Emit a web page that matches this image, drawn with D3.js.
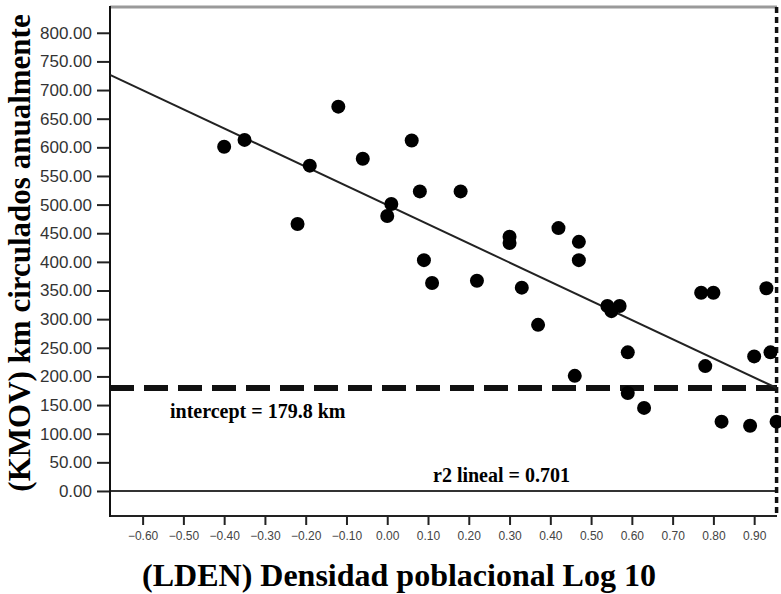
<!DOCTYPE html>
<html>
<head>
<meta charset="utf-8">
<script src="https://cdn.jsdelivr.net/npm/d3@7"></script>
<style>
  body { margin: 0; background: #fff; }
  svg { display: block; }
</style>
</head>
<body>
<script>
// densidad poblacional (log10) y km circulados por año
var lden = [-0.40, -0.35, -0.12, -0.19, -0.06, -0.22, 0.01, 0.00, 0.06, 0.08,
            0.18, 0.09, 0.11, 0.22, 0.30, 0.30, 0.33, 0.37, 0.42, 0.47,
            0.47, 0.46, 0.54, 0.55, 0.57, 0.59, 0.59, 0.63, 0.77, 0.80,
            0.78, 0.82, 0.89, 0.90, 0.93, 0.94, 0.955];
var kmov = [601, 613, 671, 568, 580, 466, 501, 480, 612, 523,
            523, 403, 363, 367, 444, 433, 355, 290, 459, 435,
            403, 201, 323, 314, 323, 242, 171, 145, 346, 346,
            218, 121, 114, 235, 354, 242, 121];

var xTicks = [-0.60, -0.50, -0.40, -0.30, -0.20, -0.10, 0.00, 0.10, 0.20, 0.30,
              0.40, 0.50, 0.60, 0.70, 0.80, 0.90];
var yTicks = [0, 50, 100, 150, 200, 250, 300, 350, 400, 450, 500, 550, 600, 650, 700, 750, 800];

// recta de ajuste lineal (extremos)
var fitX = [-0.68, 0.955];
var fitY = [726.6, 179.8];
var intercept = 179.8;
var xCut = 0.955;

var W = 781, H = 594;
var pLeft = 110, pRight = 777, pTop = 7, pBottom = 516;

var svg = d3.select("body").append("svg")
  .attr("width", W)
  .attr("height", H);

var x = d3.scaleLinear().domain([-0.68, 0.956]).range([pLeft, pRight]);
var y = d3.scaleLinear().domain([-43.7, 845]).range([pBottom, pTop]);

// marco
svg.append("line")
  .attr("x1", pLeft).attr("x2", pRight).attr("y1", pTop).attr("y2", pTop)
  .attr("stroke", "#9a9a9a").attr("stroke-width", 3);
svg.append("line")
  .attr("x1", pLeft).attr("x2", pRight).attr("y1", pBottom).attr("y2", pBottom)
  .attr("stroke", "#222").attr("stroke-width", 2);

// linea de cero
svg.append("line")
  .attr("x1", pLeft).attr("x2", pRight).attr("y1", y(0)).attr("y2", y(0))
  .attr("stroke", "#333").attr("stroke-width", 2);

// eje y
var yAxis = svg.append("g")
  .attr("transform", "translate(" + pLeft + ",0)")
  .call(d3.axisLeft(y).tickValues(yTicks).tickFormat(d3.format(".2f")).tickSize(13).tickPadding(5));
yAxis.select(".domain").remove();
yAxis.selectAll(".tick line").attr("stroke", "#222").attr("stroke-width", 2);
yAxis.selectAll(".tick text")
  .attr("fill", "#333")
  .style("font-family", "Liberation Sans, Arial, sans-serif")
  .style("font-size", "17px");
svg.append("line")
  .attr("x1", pLeft).attr("x2", pLeft).attr("y1", pTop - 1).attr("y2", pBottom + 1)
  .attr("stroke", "#111").attr("stroke-width", 2);

// eje x
var xAxis = svg.append("g")
  .attr("transform", "translate(0," + (pBottom + 1) + ")")
  .call(d3.axisBottom(x).tickValues(xTicks).tickFormat(d3.format(".2f")).tickSize(8).tickPadding(6));
xAxis.select(".domain").remove();
xAxis.selectAll(".tick line").attr("stroke", "#222").attr("stroke-width", 2);
xAxis.selectAll(".tick text")
  .attr("fill", "#444")
  .style("font-family", "Liberation Sans, Arial, sans-serif")
  .style("font-size", "12px");

// linea vertical punteada
svg.append("line")
  .attr("x1", x(xCut)).attr("x2", x(xCut)).attr("y1", pTop).attr("y2", pBottom)
  .attr("stroke", "#111").attr("stroke-width", 3.5)
  .attr("stroke-dasharray", "6,4");

// intercepto
svg.append("line")
  .attr("x1", pLeft).attr("x2", pRight).attr("y1", y(intercept)).attr("y2", y(intercept))
  .attr("stroke", "#111").attr("stroke-width", 6)
  .attr("stroke-dasharray", "24,10");

// recta de ajuste
svg.append("line")
  .attr("x1", x(fitX[0])).attr("y1", y(fitY[0]))
  .attr("x2", x(fitX[1])).attr("y2", y(fitY[1]))
  .attr("stroke", "#222").attr("stroke-width", 2);

// puntos
svg.selectAll("circle")
  .data(lden)
  .enter()
  .append("circle")
  .attr("cx", function(d){ return x(d); })
  .attr("cy", function(d, i){ return y(kmov[i]); })
  .attr("r", 7)
  .style("fill", "#000");

// textos
var serif = "Liberation Serif, Times New Roman, serif";
svg.append("text")
  .attr("x", 170).attr("y", 418)
  .style("font-family", serif).style("font-weight", "bold").style("font-size", "20px")
  .text("intercept = 179.8 km");
svg.append("text")
  .attr("x", 433).attr("y", 482)
  .style("font-family", serif).style("font-weight", "bold").style("font-size", "20px")
  .text("r2 lineal = 0.701");

svg.append("text")
  .attr("transform", "translate(30,253) rotate(-90)")
  .attr("text-anchor", "middle")
  .style("font-family", serif).style("font-weight", "bold").style("font-size", "31px")
  .text("(KMOV) km circulados anualmente");

svg.append("text")
  .attr("x", 399).attr("y", 586)
  .attr("text-anchor", "middle")
  .style("font-family", serif).style("font-weight", "bold").style("font-size", "32px")
  .text("(LDEN) Densidad poblacional Log 10");
</script>
</body>
</html>
